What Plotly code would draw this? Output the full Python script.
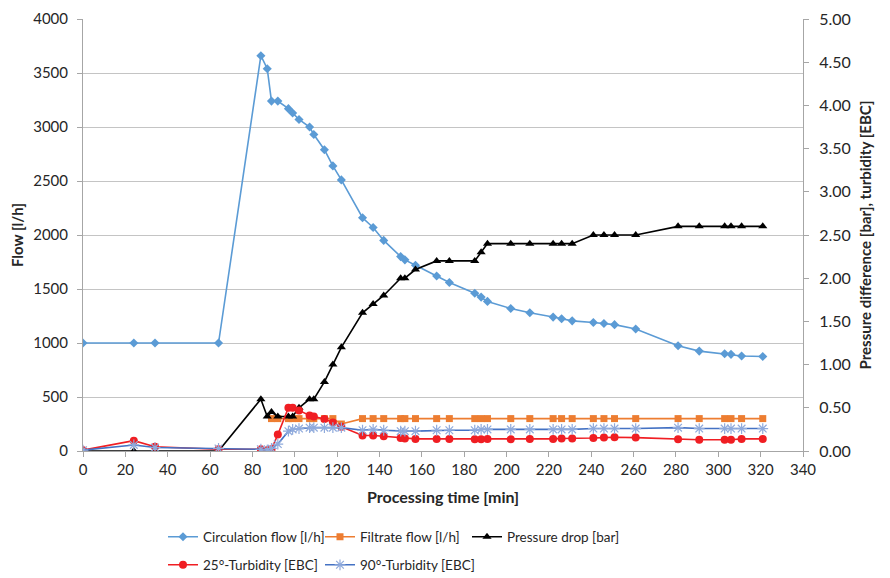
import plotly.graph_objects as go

time_min = [0, 24, 34, 64, 84, 87, 89, 92, 97, 99, 102, 107, 109, 114, 118, 122,
            132, 137, 142, 150, 152, 157, 167, 173, 185, 188, 191, 202, 211, 222,
            226, 231, 241, 246, 251, 261, 281, 291, 303, 306, 311, 321]

circulation_flow = [1000, 1000, 1000, 1000, 3660, 3540, 3240, 3240, 3170, 3130, 3070,
                    3000, 2930, 2790, 2640, 2510, 2160, 2070, 1950, 1800, 1770, 1720,
                    1620, 1560, 1460, 1425, 1385, 1320, 1280, 1240, 1225, 1205, 1190,
                    1180, 1170, 1130, 975, 925, 900, 895, 880, 875]

filtrate_flow = [None, None, None, None, None, None, 300, 300, 300, 300, 300, 300, 300,
                 300, 300, 250, 300, 300, 300, 300, 300, 300, 300, 300, 300, 300, 300,
                 300, 300, 300, 300, 300, 300, 300, 300, 300, 300, 300, 300, 300, 300, 300]

pressure_drop = [0, 0, 0, 0, 0.6, 0.4, 0.45, 0.4, 0.4, 0.4, 0.5, 0.6, 0.6, 0.8, 1.0, 1.2,
                 1.6, 1.7, 1.8, 2.0, 2.0, 2.1, 2.2, 2.2, 2.2, 2.3, 2.4, 2.4, 2.4, 2.4,
                 2.4, 2.4, 2.5, 2.5, 2.5, 2.5, 2.6, 2.6, 2.6, 2.6, 2.6, 2.6]

turbidity_25 = [0.01, 0.12, 0.05, 0.02, 0.02, 0.01, 0.02, 0.19, 0.50, 0.50, 0.47, 0.41,
                0.40, 0.37, 0.33, 0.28, 0.18, 0.18, 0.17, 0.15, 0.145, 0.14, 0.14, 0.14,
                0.135, 0.135, 0.14, 0.135, 0.14, 0.14, 0.145, 0.145, 0.15, 0.155, 0.16,
                0.155, 0.135, 0.13, 0.13, 0.13, 0.14, 0.14]

turbidity_90 = [0.01, 0.07, 0.04, 0.03, 0.02, 0.01, 0.03, 0.08, 0.23, 0.25, 0.26, 0.27,
                0.27, 0.27, 0.27, 0.27, 0.24, 0.25, 0.24, 0.23, 0.23, 0.23, 0.24, 0.24,
                0.24, 0.25, 0.25, 0.25, 0.25, 0.25, 0.25, 0.25, 0.26, 0.26, 0.26, 0.26,
                0.27, 0.26, 0.26, 0.26, 0.26, 0.26]

left_ticks = list(range(0, 4001, 500))
right_ticks = [i * 0.5 for i in range(11)]
x_ticks = list(range(0, 341, 20))

FONT = "Lato, 'Open Sans', sans-serif"
GRID = "#C4C4C4"
AXIS = "#A6A6A6"

# The page body adds an 8 px offset; figure coordinates = page coordinates - 8.
OFF = 8
W, H = 890, 578
ML = 83 - OFF
MT = 19 - OFF
MR = W - (803 - OFF)
MB = H - (451 - OFF)
PW, PH = W - ML - MR, H - MT - MB


def lx(px):
    return (px - OFF - ML) / PW


def ly(py):
    return (H - MB - (py - OFF)) / PH


fig = go.Figure()

fig.add_trace(go.Scatter(
    x=time_min, y=circulation_flow, name="Circulation flow [l/h]",
    mode="lines+markers", line=dict(color="#5B9BD5", width=1.6),
    marker=dict(symbol="diamond", size=7, color="#5B9BD5"),
    yaxis="y", legend="legend"))

fig.add_trace(go.Scatter(
    x=time_min, y=filtrate_flow, name="Filtrate flow [l/h]",
    mode="lines+markers", line=dict(color="#ED7D31", width=1.6),
    marker=dict(symbol="square", size=7, color="#ED7D31"),
    yaxis="y", legend="legend2", connectgaps=False))

fig.add_trace(go.Scatter(
    x=time_min, y=pressure_drop, name="Pressure drop [bar]",
    mode="lines+markers", line=dict(color="#000000", width=1.6),
    marker=dict(symbol="triangle-up", size=8, color="#000000"),
    yaxis="y2", legend="legend3"))

fig.add_trace(go.Scatter(
    x=time_min, y=turbidity_25, name="25°-Turbidity [EBC]",
    mode="lines+markers", line=dict(color="#F01E23", width=1.6),
    marker=dict(symbol="circle", size=8, color="#F01E23"),
    yaxis="y2", legend="legend4"))

fig.add_trace(go.Scatter(
    x=time_min, y=turbidity_90, name="90°-Turbidity [EBC]",
    mode="lines+markers", line=dict(color="#4472C4", width=1.6),
    marker=dict(symbol="asterisk-open", size=9, color="#8FAADC",
                line=dict(color="#8FAADC", width=1.2)),
    yaxis="y2", legend="legend5"))


def leg(text_x, row_y):
    return dict(
        visible=True,
        orientation="h", x=lx(text_x - 40), xanchor="left",
        y=ly(row_y), yanchor="middle",
        font=dict(size=13.5), bgcolor="rgba(0,0,0,0)", itemsizing="trace",
    )


fig.update_layout(
    width=W, height=H, showlegend=True,
    paper_bgcolor="white", plot_bgcolor="white",
    font=dict(family=FONT, size=15, color="#262626"),
    margin=dict(l=ML, r=MR, t=MT, b=MB, autoexpand=False),
    xaxis=dict(
        range=[0, 340], tickmode="array", tickvals=x_ticks,
        showgrid=False, zeroline=False, automargin=False,
        showline=True, linecolor=AXIS, linewidth=1,
        ticks="outside", ticklen=5, tickcolor=AXIS,
        tickfont=dict(size=15),
        title=dict(text="<b>Processing time [min]</b>", font=dict(size=16), standoff=14),
    ),
    yaxis=dict(
        range=[0, 4000], tickmode="array", tickvals=left_ticks,
        showgrid=True, gridcolor=GRID, gridwidth=1, zeroline=False, automargin=False,
        showline=True, linecolor=AXIS, linewidth=1,
        ticks="outside", ticklen=5, tickcolor=AXIS,
        tickfont=dict(size=15), ticklabelstandoff=6,
        title=dict(text="<b>Flow [l/h]</b>", font=dict(size=15), standoff=5),
    ),
    yaxis2=dict(
        range=[0, 5], tickmode="array", tickvals=right_ticks, tickformat=".2f",
        overlaying="y", side="right",
        showgrid=False, zeroline=False, automargin=False,
        showline=True, linecolor=AXIS, linewidth=1,
        ticks="outside", ticklen=5, tickcolor=AXIS,
        tickfont=dict(size=16), ticklabelstandoff=7,
        title=dict(text="<b>Pressure difference [bar], turbidity [EBC]</b>",
                   font=dict(size=15), standoff=10),
    ),
    legend=leg(203, 537),
    legend2=leg(360, 537),
    legend3=leg(507, 537),
    legend4=leg(203, 565),
    legend5=leg(360, 565),
)

fig.write_html("out.html")
